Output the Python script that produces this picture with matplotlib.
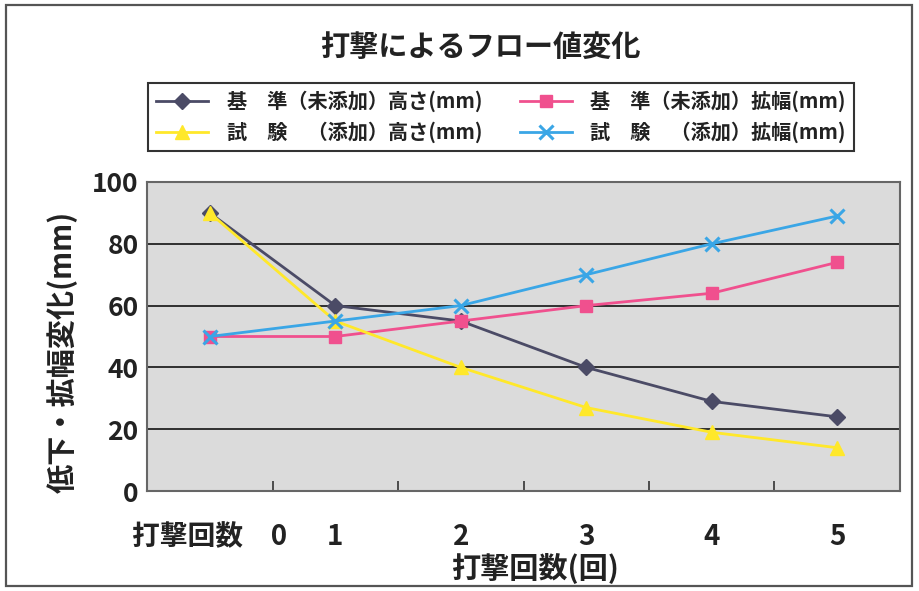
import matplotlib
matplotlib.use("Agg")
import matplotlib.pyplot as plt
from matplotlib.patches import Rectangle

plt.rcParams['font.family'] = ['Noto Sans CJK JP', 'DejaVu Sans']

categories = ["打撃回数\u30000", "1", "2", "3", "4", "5"]
base_height = [90, 60, 55, 40, 29, 24]
base_width = [50, 50, 55, 60, 64, 74]
test_height = [90, 55, 40, 27, 19, 14]
test_width = [50, 55, 60, 70, 80, 89]
y_ticks = [0, 20, 40, 60, 80, 100]

labels = ["基\u3000準（未添加）高さ(mm)", "基\u3000準（未添加）拡幅(mm)",
          "試\u3000験\u3000（添加）高さ(mm)", "試\u3000験\u3000（添加）拡幅(mm)"]

W, H = 919, 591
fig = plt.figure(figsize=(W / 100, H / 100), dpi=100)
fig.patch.set_facecolor("white")

# outer frame
fig.add_artist(Rectangle((6 / W, 5 / H), 906 / W, 581 / H, transform=fig.transFigure,
                         fill=False, edgecolor="#555555", linewidth=1.6))

ax = fig.add_axes([147 / W, (H - 491) / H, 753 / W, 309 / H])
ax.set_facecolor("#dbdbdb")
x = list(range(len(categories)))

l1, = ax.plot(x, base_height, color="#4b4b66", marker="D", markersize=8, linewidth=2.0,
              label=labels[0], zorder=3)
l2, = ax.plot(x, base_width, color="#f0508e", marker="s", markersize=9, linewidth=2.0,
              label=labels[1], zorder=3)
l3, = ax.plot(x, test_height, color="#ffe82a", marker="^", markersize=10, linewidth=2.0,
              label=labels[2], zorder=4)
l4, = ax.plot(x, test_width, color="#3aa6e6", marker="x", markersize=10, markeredgewidth=2.2,
              linewidth=2.0, label=labels[3], zorder=4)

ax.set_xlim(-0.5, 5.5)
ax.set_ylim(0, 100)
ax.set_yticks(y_ticks)
ax.set_yticklabels([str(v) for v in y_ticks], fontsize=19, fontweight="bold", color="#222222")
ax.set_xticks(x)
ax.set_xticklabels(categories, fontsize=20, fontweight="bold", color="#222222")
ax.tick_params(axis="x", length=0, pad=23)
ax.tick_params(axis="y", length=0, pad=6)
ax.set_xticks([i + 0.5 for i in range(5)], minor=True)
ax.tick_params(axis="x", which="minor", direction="in", length=7, width=1.2, color="#333333")
ax.grid(axis="y", color="#222222", linewidth=1.3)
ax.set_axisbelow(True)
for s in ax.spines.values():
    s.set_color("#666666")
    s.set_linewidth(1.5)

fig.text(480 / W, (H - 47) / H, "打撃によるフロー値変化", ha="center", va="center",
         fontsize=21, fontweight="bold", color="#222222")
fig.text(62 / W, (H - 352) / H, "低下・拡幅変化(mm)", ha="center", va="center",
         rotation=90, fontsize=21, fontweight="bold", color="#222222")
fig.text(535 / W, (H - 568) / H, "打撃回数(回)", ha="center", va="center",
         fontsize=21, fontweight="bold", color="#222222")

leg = fig.legend([l1, l3, l2, l4], [labels[0], labels[2], labels[1], labels[3]],
                 ncol=2, loc="lower left", mode="expand",
                 bbox_to_anchor=(148 / W, (H - 151) / H, 706 / W, 76 / H),
                 fancybox=False, edgecolor="#333333", framealpha=1, handlelength=2.6,
                 handletextpad=0.9,
                 prop={"size": 14.5, "weight": "bold"}, borderaxespad=0,
                 labelspacing=0.45, columnspacing=1.5)
leg.get_frame().set_linewidth(1.5)
for t in leg.get_texts():
    t.set_color("#222222")

fig.savefig("out.png", dpi=100)
